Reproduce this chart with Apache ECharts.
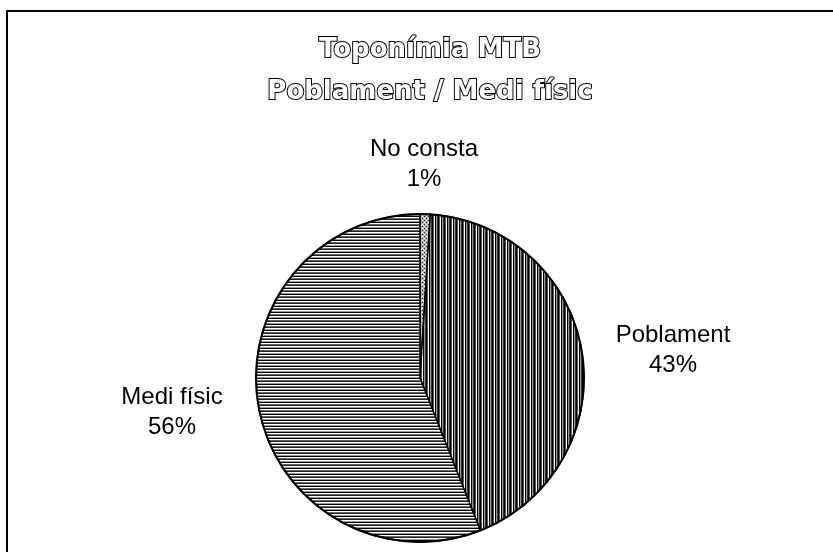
<!DOCTYPE html>
<html>
<head>
<meta charset="utf-8">
<script src="https://cdn.jsdelivr.net/npm/echarts@6/dist/echarts.min.js"></script>
<style>
  html, body { margin: 0; padding: 0; background: #fff; }
  #box { width: 833px; height: 552px; }
</style>
</head>
<body>
<div id="box"></div>
<script>
const categories = ['No consta', 'Poblament', 'Medi físic'];
const values = [1, 43, 56];
const titleLines = ['Toponímia MTB', 'Poblament / Medi físic'];

// label centres for each slice (pixel positions in the chart)
const labelPos = [[424, 164], [673, 350], [172, 412]];

// fill patterns that imitate the printed hatching
const makePattern = (w, h, draw) => {
  const c = document.createElement('canvas');
  c.width = w;
  c.height = h;
  const ctx = c.getContext('2d');
  ctx.fillStyle = '#fff';
  ctx.fillRect(0, 0, w, h);
  draw(ctx);
  return { image: c, repeat: 'repeat' };
};

const vertStripes = makePattern(6, 6, ctx => {
  const cols = ['#000', '#555', '#fff', '#000', '#999', '#333'];
  cols.forEach((col, i) => { ctx.fillStyle = col; ctx.fillRect(i, 0, 1, 6); });
});
const horizStripes = makePattern(6, 6, ctx => {
  const rows = ['#000', '#fff', '#666', '#222', '#fff', '#999'];
  rows.forEach((col, i) => { ctx.fillStyle = col; ctx.fillRect(0, i, 6, 1); });
});
const dots = makePattern(4, 4, ctx => {
  ctx.fillStyle = '#bdbdbd';
  ctx.fillRect(0, 0, 4, 4);
  ctx.fillStyle = '#222';
  ctx.fillRect(0, 0, 1, 1);
  ctx.fillRect(2, 2, 1, 1);
  ctx.fillStyle = '#fff';
  ctx.fillRect(2, 0, 1, 1);
  ctx.fillRect(0, 2, 1, 1);
});
const fills = [dots, vertStripes, horizStripes];

const myChart = echarts.init(document.getElementById('box'));

const option = {
  animation: false,
  backgroundColor: '#fff',
  title: {
    text: titleLines.join('\n'),
    left: 430,
    textAlign: 'center',
    top: 29,
    padding: 0,
    textStyle: {
      fontFamily: 'DejaVu Sans',
      fontWeight: 'bold',
      fontSize: 26,
      lineHeight: 42,
      color: '#fff',
      textBorderColor: '#000',
      textBorderWidth: 2
    }
  },
  graphic: [
    {
      type: 'rect',
      shape: { x: 7, y: 11, width: 900, height: 700 },
      style: { fill: 'none', stroke: '#000', lineWidth: 2 },
      silent: true
    }
  ],
  series: [
    {
      type: 'pie',
      center: [420, 378],
      radius: 164,
      startAngle: 90,
      clockwise: true,
      data: categories.map((name, i) => ({
        name: name,
        value: values[i],
        itemStyle: { color: fills[i] }
      })),
      itemStyle: { borderColor: '#000', borderWidth: 1.5 },
      label: {
        show: true,
        formatter: p => p.name + '\n' + Math.round(p.percent) + '%',
        fontFamily: 'Liberation Sans',
        fontSize: 24,
        lineHeight: 30,
        color: '#000',
        align: 'center'
      },
      labelLine: { show: false },
      labelLayout: p => ({
        x: labelPos[p.dataIndex][0],
        y: labelPos[p.dataIndex][1],
        align: 'center',
        verticalAlign: 'middle'
      }),
      emphasis: { disabled: true }
    },
    {
      // heavy outer rim
      type: 'pie',
      center: [420, 378],
      radius: [163, 165],
      silent: true,
      label: { show: false },
      labelLine: { show: false },
      itemStyle: { color: '#000' },
      data: [{ value: 1, name: 'rim' }],
      emphasis: { disabled: true }
    }
  ]
};

option && myChart.setOption(option);
window.addEventListener('resize', function () {
  if (myChart) {
    myChart.resize();
  }
});
</script>
</body>
</html>
